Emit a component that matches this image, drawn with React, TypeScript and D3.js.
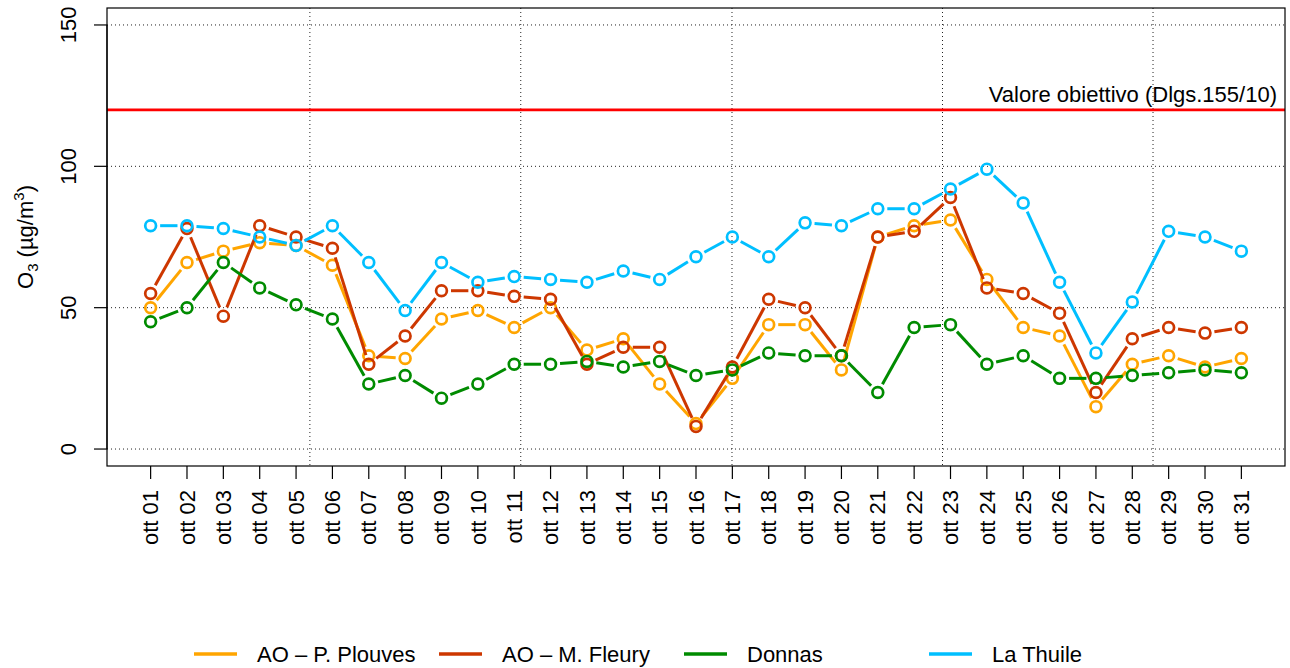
import React from "react";
import * as d3 from "d3";

const DAYS = Array.from({ length: 31 }, (_, i) => i + 1);
const DAY_LABELS = DAYS.map((d) => `ott ${String(d).padStart(2, "0")}`);

const PLOUVES = [50, 66, 70, 73, 72, 65, 33, 32, 46, 49, 43, 50, 35, 39, 23, 9, 25, 44, 44, 28, 75, 79, 81, 60, 43, 40, 15, 30, 33, 29, 32];
const FLEURY = [55, 78, 47, 79, 75, 71, 30, 40, 56, 56, 54, 53, 30, 36, 36, 8, 29, 53, 50, 33, 75, 77, 89, 57, 55, 48, 20, 39, 43, 41, 43];
const DONNAS = [45, 50, 66, 57, 51, 46, 23, 26, 18, 23, 30, 30, 31, 29, 31, 26, 28, 34, 33, 33, 20, 43, 44, 30, 33, 25, 25, 26, 27, 28, 27];
const LA_THUILE = [79, 79, 78, 75, 72, 79, 66, 49, 66, 59, 61, 60, 59, 63, 60, 68, 75, 68, 80, 79, 85, 85, 92, 99, 87, 59, 34, 52, 77, 75, 70];

const SERIES_NAMES = ["AO \u2013 P. Plouves", "AO \u2013 M. Fleury", "Donnas", "La Thuile"];
const SERIES_VALUES = [PLOUVES, FLEURY, DONNAS, LA_THUILE];
const SERIES_COLORS = ["#FFA500", "#CD3700", "#008B00", "#00BFFF"];

const Y_TICKS = [0, 50, 100, 150];
const X_GRID = [5.38, 11.18, 16.99, 22.78, 28.57];
const TARGET_VALUE = 120;
const TARGET_LABEL = "Valore obiettivo (Dlgs.155/10)";

const FONT = "'Liberation Sans', Arial, Helvetica, sans-serif";

export default function App() {
  const W = 1290;
  const H = 668;
  const left = 107, right = 1285, top = 8, bottom = 466;

  const x = d3.scaleLinear().domain([-0.2, 32.2]).range([left, right]);
  const y = d3.scaleLinear().domain([-6, 156]).range([bottom, top]);

  const gap = 9.5;
  const segs = (vals: number[]) => {
    const out: { x1: number; y1: number; x2: number; y2: number }[] = [];
    for (let i = 0; i < vals.length - 1; i++) {
      const ax = x(DAYS[i]), ay = y(vals[i]);
      const bx = x(DAYS[i + 1]), by = y(vals[i + 1]);
      const dx = bx - ax, dy = by - ay;
      const len = Math.hypot(dx, dy);
      if (len <= 2 * gap) continue;
      const ux = dx / len, uy = dy / len;
      out.push({ x1: ax + ux * gap, y1: ay + uy * gap, x2: bx - ux * gap, y2: by - uy * gap });
    }
    return out;
  };

  const legendX = [194, 439, 684, 929];

  return (
    <svg
      width={W}
      height={H}
      style={{ position: "absolute", left: 0, top: 0, background: "#fff" }}
      fontFamily={FONT}
    >
      <rect x={0} y={0} width={W} height={H} fill="#fff" />
      {/* grid */}
      {Y_TICKS.map((t) => (
        <line key={"gy" + t} x1={left} x2={right} y1={y(t)} y2={y(t)} stroke="#222" strokeWidth={1} strokeDasharray="1,3" />
      ))}
      {X_GRID.map((g) => (
        <line key={"gx" + g} x1={x(g)} x2={x(g)} y1={top} y2={bottom} stroke="#222" strokeWidth={1} strokeDasharray="1,3" />
      ))}
      {/* target line */}
      <line x1={left} x2={right} y1={y(TARGET_VALUE)} y2={y(TARGET_VALUE)} stroke="#FF0000" strokeWidth={2.8} />
      <text x={1277} y={y(TARGET_VALUE) - 8} textAnchor="end" fontSize={22} fill="#000">
        {TARGET_LABEL}
      </text>
      {/* series */}
      {SERIES_VALUES.map((vals, si) => (
        <g key={"s" + si}>
          {segs(vals).map((s, i) => (
            <line key={i} x1={s.x1} y1={s.y1} x2={s.x2} y2={s.y2} stroke={SERIES_COLORS[si]} strokeWidth={3} />
          ))}
          {vals.map((v, i) => (
            <circle key={"c" + i} cx={x(DAYS[i])} cy={y(v)} r={5.4} fill="none" stroke={SERIES_COLORS[si]} strokeWidth={2.7} />
          ))}
        </g>
      ))}
      {/* frame */}
      <rect x={left} y={top} width={right - left} height={bottom - top} fill="none" stroke="#000" strokeWidth={1.2} />
      {/* y axis */}
      <line x1={left} x2={left} y1={y(0)} y2={y(150)} stroke="#000" strokeWidth={1.2} />
      {Y_TICKS.map((t) => (
        <g key={"yt" + t}>
          <line x1={left - 13} x2={left} y1={y(t)} y2={y(t)} stroke="#000" strokeWidth={1.2} />
          <text transform={`translate(76,${y(t)}) rotate(-90)`} textAnchor="middle" fontSize={22} fill="#000">
            {t}
          </text>
        </g>
      ))}
      <text transform={`translate(33,${(top + bottom) / 2}) rotate(-90)`} textAnchor="middle" fontSize={22} fill="#000">
        <tspan>O</tspan>
        <tspan fontSize={15} dy={5}>3</tspan>
        <tspan dy={-5}>{" (\u00B5g/m"}</tspan>
        <tspan fontSize={15} dy={-9}>3</tspan>
        <tspan dy={9}>)</tspan>
      </text>
      {/* x axis */}
      {DAYS.map((d, i) => (
        <g key={"xt" + d}>
          <line x1={x(d)} x2={x(d)} y1={bottom} y2={bottom + 13} stroke="#000" strokeWidth={1.2} />
          <text transform={`translate(${x(d)},490) rotate(-90)`} textAnchor="end" dy="0.35em" fontSize={22} fill="#000">
            {DAY_LABELS[i]}
          </text>
        </g>
      ))}
      {/* legend */}
      {SERIES_NAMES.map((n, i) => (
        <g key={"lg" + i}>
          <line x1={legendX[i]} x2={legendX[i] + 43} y1={654} y2={654} stroke={SERIES_COLORS[i]} strokeWidth={3.5} />
          <text x={legendX[i] + 63} y={662} fontSize={22} fill="#000">
            {n}
          </text>
        </g>
      ))}
    </svg>
  );
}
